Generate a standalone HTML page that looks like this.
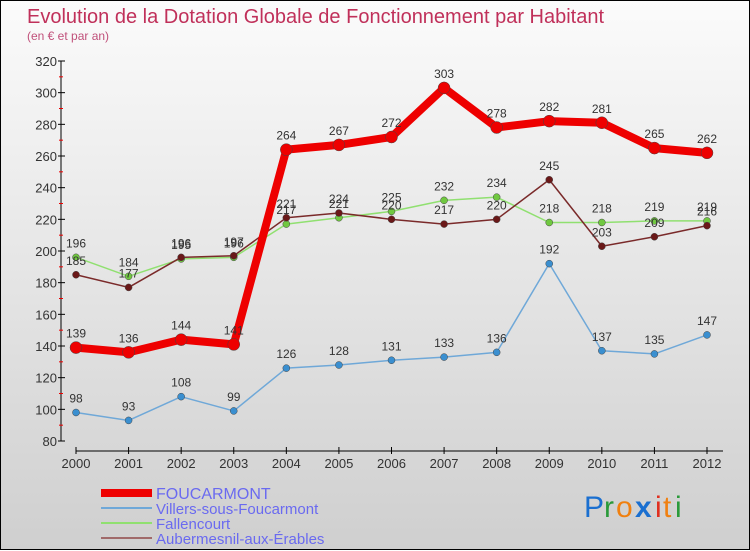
<!DOCTYPE html>
<html><head><meta charset="utf-8"><style>
html,body{margin:0;padding:0}
body{width:750px;height:550px;overflow:hidden;font-family:"Liberation Sans",sans-serif}
#wrap{position:relative;width:748px;height:548px;border:1px solid #000;background:linear-gradient(#fbfbfb,#cfcfcf)}
svg{position:absolute;left:0;top:0}
</style></head><body>
<div id="wrap">
<svg id="chart" width="750" height="550">
<text x="26" y="22" font-size="20" fill="#c0305a">Evolution de la Dotation Globale de Fonctionnement par Habitant</text>
<text x="26" y="39" font-size="12" fill="#c0507a">(en € et par an)</text>
<g id="axes"></g><g id="series"></g><g id="legend"></g>
<g font-size="30" font-family="'Liberation Sans',sans-serif">
<text x="583" y="516" fill="#1a6fd0">P</text><text x="603" y="516" fill="#2a9a3a">r</text><text x="615" y="516" fill="#f08010">o</text><text x="634" y="516" fill="#1a6fd0" font-weight="bold">x</text><text x="654" y="516" fill="#e03020">i</text><text x="662" y="516" fill="#f08010">t</text><text x="674" y="516" fill="#2a9a3a">i</text>
</g>
</svg></div>
<script>
const years=[2000,2001,2002,2003,2004,2005,2006,2007,2008,2009,2010,2011,2012];
const foucarmont=[139,136,144,141,264,267,272,303,278,282,281,265,262];
const villers=[98,93,108,99,126,128,131,133,136,192,137,135,147];
const fallencourt=[196,184,195,196,217,221,225,232,234,218,218,219,219];
const aubermesnil=[185,177,196,197,221,224,220,217,220,245,203,209,216];
const yTicks=[80,100,120,140,160,180,200,220,240,260,280,300,320];
const NS="http://www.w3.org/2000/svg";
const x=i=>75+i*(706-75)/(years.length-1);
const y=v=>440-(v-80)*(380/240);
function mk(p,t,a){const e=document.createElementNS(NS,t);for(const k in a)e.setAttribute(k,a[k]);p.appendChild(e);return e;}
const axes=document.getElementById('axes');
const ya=mk(axes,'line',{x1:60,y1:60,x2:60,y2:440,stroke:'#000'});


const xa=mk(axes,'line',{x1:75,y1:450,x2:722,y2:450,stroke:'#000'});


yTicks.forEach((t,i)=>{
 mk(axes,'line',{x1:57,y1:y(t),x2:64,y2:y(t),stroke:'#000'});
 if(i<yTicks.length-1)mk(axes,'line',{x1:58,y1:y(t+10),x2:62,y2:y(t+10),stroke:'#e00'});
 const tx=mk(axes,'text',{x:56,y:y(t)+5,'font-size':13,fill:'#333','text-anchor':'end'});
 tx.textContent=t;
 
 
});
years.forEach((yr,i)=>{
 mk(axes,'line',{x1:x(i),y1:446,x2:x(i),y2:453,stroke:'#000'});
 const tx=mk(axes,'text',{x:x(i),y:467,'font-size':13,fill:'#333','text-anchor':'middle'});
 tx.textContent=yr;
 
 
});
const ser=document.getElementById('series');
function draw(data,color,dot,w,r,name){
 const g=mk(ser,'g',{});
 
 
 mk(g,'polyline',{points:data.map((v,i)=>x(i)+','+y(v)).join(' '),fill:'none',stroke:color,'stroke-width':w,'stroke-linejoin':'round'});
 data.forEach((v,i)=>{
  const c=mk(g,'circle',{cx:x(i),cy:y(v),r:r,fill:dot,stroke:'#444','stroke-width':0.5});
  
  
  const t=mk(g,'text',{x:x(i),y:y(v)-10,'font-size':12,fill:'#333','text-anchor':'middle'});
  t.textContent=v;
  
  
 });
}
draw(villers,'#6fa8d8','#3a8fd0',1.5,3.5,'villers-series');
draw(fallencourt,'#90e070','#70c840',1.5,3.5,'fallencourt-series');
draw(aubermesnil,'#7a2a2a','#6a1818',1.5,3.5,'aubermesnil-series');
draw(foucarmont,'#ee0000','#ee0000',8,6,'foucarmont-series');
const leg=document.getElementById('legend');
[['FOUCARMONT','#ee0000',8],['Villers-sous-Foucarmont','#6fa8d8',2],['Fallencourt','#90e070',2],['Aubermesnil-aux-Érables','#a06a6a',2]].forEach((d,i)=>{
 const g=mk(leg,'g',{});
 
 
 const yy=492+i*15;
 mk(g,'line',{x1:100,y1:yy,x2:151,y2:yy,stroke:d[1],'stroke-width':d[2]});
 const t=mk(g,'text',{x:155,y:yy+6,'font-size':i==0?16:15,fill:'#6a6af0'});
 t.textContent=d[0];
});
</script>
</body></html>
